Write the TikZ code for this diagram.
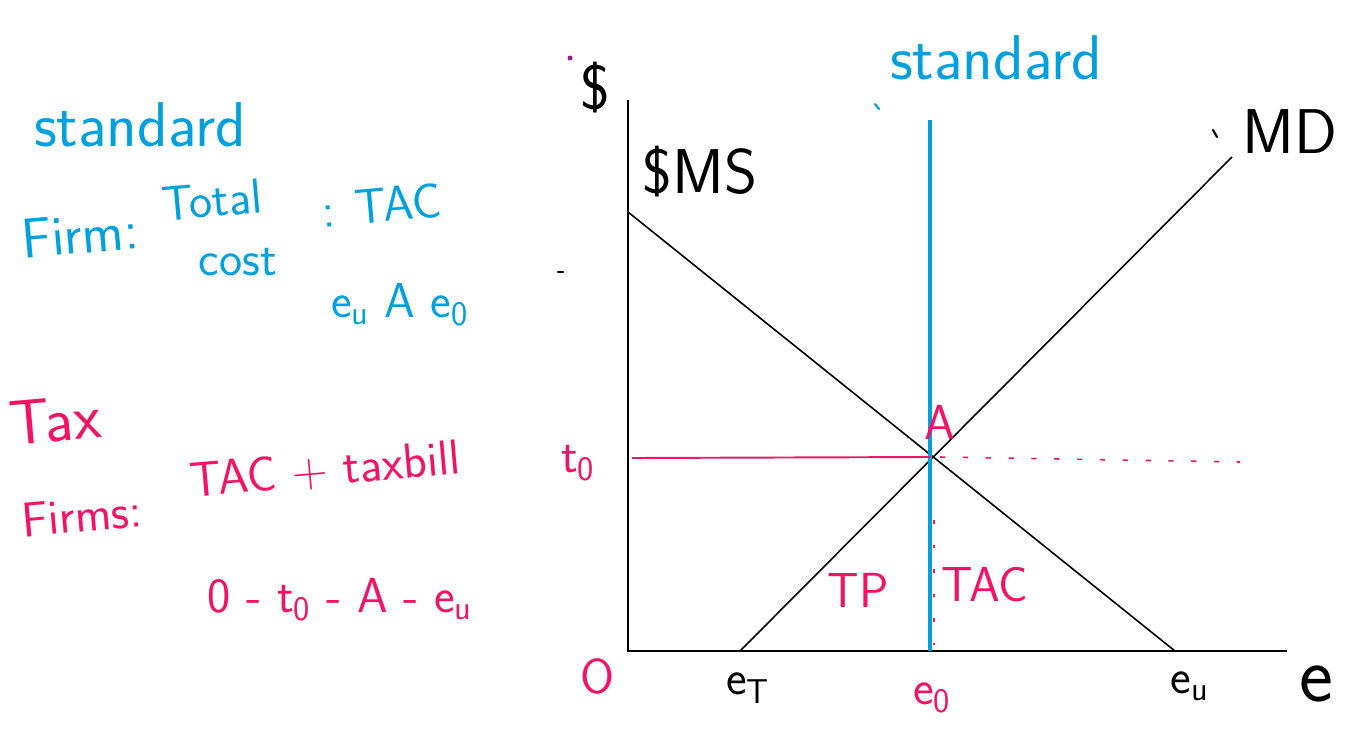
\documentclass[tikz,border=0pt]{standalone}
\usepackage{xcolor}
\usepackage{tikz}
\usetikzlibrary{positioning,calc}
\definecolor{penblue}{RGB}{0,160,220}
\definecolor{penpink}{RGB}{240,20,100}
\definecolor{penplum}{RGB}{160,30,140}

\begin{document}
\begin{tikzpicture}[
    x=0.02cm, y=-0.02cm,
    axis/.style={line width=1.2pt},
    curve/.style={line width=0.9pt},
    standardline/.style={penblue, line width=2.3pt},
    taxline/.style={penpink, line width=1.1pt},
    bluepen/.style={text=penblue, font=\sffamily\fontsize{28}{30}\selectfont, inner sep=0pt},
    pinkpen/.style={text=penpink, font=\sffamily\fontsize{28}{30}\selectfont, inner sep=0pt},
    blackpen/.style={text=black, font=\sffamily\fontsize{28}{30}\selectfont, inner sep=0pt},
    bigpen/.style={font=\sffamily\fontsize{36}{38}\selectfont},
    stray/.style={line width=1.2pt, line cap=round}
]
\useasboundingbox (0,0) rectangle (1353,728);

% Notes: standard
\node[bluepen, bigpen] (stdnote) at (140,125) {standard};
\node[bluepen, font=\sffamily\fontsize{32}{34}\selectfont, rotate=5] (firmnote) at (80,234) {Firm:};
\node[bluepen, rotate=5] (totalnote) at (212,200) {Total};
\node[bluepen] (costnote) at (238,262) {cost};
\node[bluepen, rotate=5] (tacnote) at (382,205) {: TAC};
\node[bluepen] (pathnote) at (400,305) {e\textsubscript{u} A e\textsubscript{0}};

% Notes: tax
\node[pinkpen, bigpen, rotate=5] (taxnote) at (55,420) {Tax};
\node[pinkpen, rotate=5] (firmsnote) at (82,515) {Firms:};
\node[pinkpen, rotate=5] (billnote) at (325,470) {TAC + taxbill};
\node[pinkpen] (taxpath) at (340,600) {0 - t\textsubscript{0} - A - e\textsubscript{u}};

% Axes
\coordinate (orig) at (628,651);
\coordinate (ytop) at (628,100);
\coordinate (xend) at (1287,651);
\draw[axis] (ytop) -- (orig) -- (xend);
\node[blackpen, bigpen] (dollar) at (595,88) {\$};
\node[blackpen, font=\sffamily\fontsize{46}{48}\selectfont] (elab) at (1316,684) {e};
\node[pinkpen] (olab) at (598,676) {O};

% Curves
\coordinate (mstop) at (628,212);
\coordinate (msbot) at (1175,651);
\coordinate (mdbot) at (740,651);
\coordinate (mdtop) at (1232,157);
\coordinate (eqA) at (930,457);
\draw[curve] (mstop) -- (msbot);
\draw[curve] (mdbot) -- (mdtop);
\node[blackpen, bigpen] (mslab) at (700,172) {\$MS};
\node[blackpen, bigpen] (mdlab) at (1290,132) {MD};

% Standard at e0
\coordinate (stdtop) at (930,120);
\coordinate (stdbot) at (930,651);
\draw[standardline] (stdtop) -- (stdbot);
\node[bluepen, bigpen] (stdlab) at (996,58) {standard};

% Tax at t0
\coordinate (taxleft) at (632,458);
\coordinate (taxright) at (1240,462);
\draw[taxline] (taxleft) -- (eqA);
\draw[taxline, line width=0.9pt, dash pattern=on 3pt off 10pt] ($(eqA)+(10,0)$) -- (taxright);
\draw[penpink, line width=0.6pt, dash pattern=on 2pt off 12pt] (934,520) -- (934,645);
\node[pinkpen] (alab) at (940,422) {A};
\node[pinkpen] (tlab) at (578,463) {t\textsubscript{0}};
\node[pinkpen] (tplab) at (858,590) {TP};
\node[pinkpen] (taclab) at (985,585) {TAC};

% Ticks on the e axis
\node[blackpen] (etlab) at (748,688) {e\textsubscript{T}};
\node[pinkpen] (e0lab) at (932,698) {e\textsubscript{0}};
\node[blackpen] (eulab) at (1190,686) {e\textsubscript{u}};

% Stray pen marks
\fill[penplum] (570,58) circle (2.5);
\draw[stray, penblue] (875,104) -- (879,109);
\draw[stray] (558,272) -- (563,272);
\draw[stray] (1213,130) -- (1217,137);
\end{tikzpicture}
\end{document}
